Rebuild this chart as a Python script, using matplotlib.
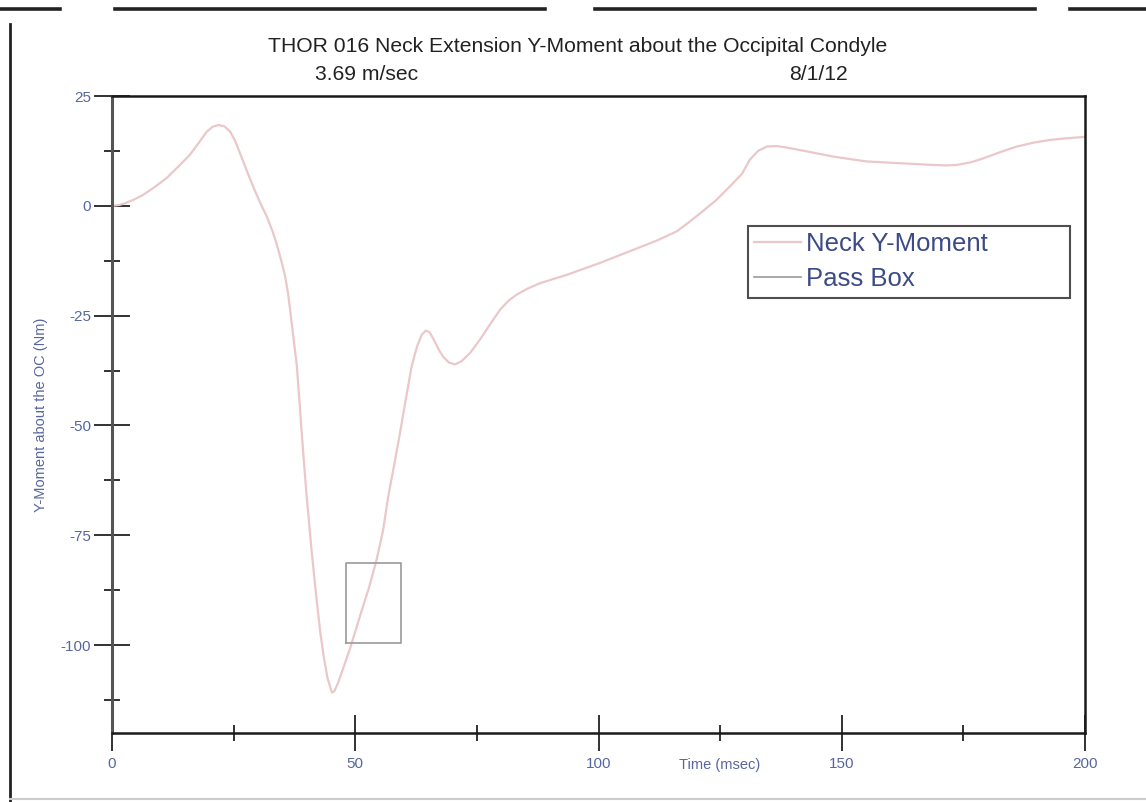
import matplotlib
matplotlib.use("Agg")
import matplotlib.pyplot as plt
from matplotlib.lines import Line2D
from matplotlib.ticker import MultipleLocator

plt.rcParams["axes.unicode_minus"] = False

# Neck Y-moment trace (time in msec, moment in Nm)
time_ms = [0, 1.5, 2.7, 4.5, 6.4, 8.8, 11.2, 13.6, 16, 18, 19.5, 20.7, 21.9,
           23.1, 24.3, 25.3, 26.3, 27.5, 29, 30.5, 31.8, 33, 33.8, 34.8, 35.6,
           36.2, 36.6, 37.3, 38, 38.5, 39, 39.5, 40, 40.5, 41, 41.9, 42.8, 43.5,
           44.3, 45.2, 45.7, 46.5, 47.6, 48.9, 51, 52.8, 54.4, 55.7, 56.8, 58,
           59.2, 60.4, 61.6, 62.7, 63.7, 64.5, 65.3, 66.3, 67.3, 68.1, 69.3,
           70.5, 71.8, 73.6, 75.6, 77.7, 79.8, 81.5, 83.2, 85.5, 88, 93.5,
           100.3, 107.2, 112, 116.1, 118.5, 120.9, 124.3, 127.7, 129.5, 131.1,
           132.8, 134.6, 136.6, 138.5, 141.4, 148.3, 155.1, 162, 168.8, 171.5,
           173.6, 176.5, 179.1, 182.5, 186, 189.5, 192.8, 196.5, 200]
moment_nm = [0, 0.2, 0.6, 1.4, 2.5, 4.3, 6.3, 8.9, 11.6, 14.6, 16.9, 18.0,
             18.4, 18.1, 16.9, 14.8, 12, 8.6, 4.4, 0.6, -2.4, -5.8, -8.5,
             -12.5, -16.1, -20, -23.6, -30, -36.5, -44, -51.7, -59, -66, -72,
             -78.2, -88, -97, -102.5, -107.5, -110.8, -110.5, -108.5, -105,
             -100.9, -93.3, -87, -80.5, -74, -66, -59, -51.7, -44, -36.5, -32,
             -29.3, -28.4, -28.8, -30.8, -33, -34.4, -35.7, -36.1, -35.4, -33.5,
             -30.5, -27, -23.6, -21.6, -20.2, -18.8, -17.6, -15.7, -13, -10,
             -7.9, -5.8, -3.8, -1.7, 1.4, 5.2, 7.3, 10.5, 12.5, 13.5, 13.6,
             13.3, 12.7, 11.2, 10.1, 9.7, 9.3, 9.2, 9.3, 9.9, 10.8, 12.2, 13.5,
             14.4, 15, 15.4, 15.7]

# Pass box corners (msec, Nm)
box_t = [48.2, 59.5]
box_m = [-99.4, -81.2]

x_ticks = [0, 50, 100, 150, 200]
y_ticks = [25, 0, -25, -50, -75, -100]

title = "THOR 016 Neck Extension Y-Moment about the Occipital Condyle"
speed_text = "3.69 m/sec"
date_text = "8/1/12"

W, H = 1146, 802
fig = plt.figure(figsize=(W / 100, H / 100), dpi=100)
fig.patch.set_facecolor("white")

font = ["Liberation Sans", "DejaVu Sans"]
tick_col = "#5866a0"
curve_col = "#eac8ca"
box_col = "#9a9a9a"

x0p, x1p, y0p, y1p = 112, 1085, 96, 733
ax = fig.add_axes([x0p / W, 1 - y1p / H, (x1p - x0p) / W, (y1p - y0p) / H])
ax.plot(time_ms, moment_nm, color=curve_col, lw=1.6, solid_joinstyle="round",
        label="Neck Y-Moment")
ax.plot([box_t[0], box_t[1], box_t[1], box_t[0], box_t[0]],
        [box_m[0], box_m[0], box_m[1], box_m[1], box_m[0]],
        color=box_col, lw=1.2, label="Pass Box")

ax.set_xlim(0, 200)
ax.set_ylim(-120, 25)
ax.set_xticks(x_ticks)
ax.set_yticks(y_ticks)
ax.xaxis.set_minor_locator(MultipleLocator(25))
ax.yaxis.set_minor_locator(MultipleLocator(12.5))
ax.tick_params(which="major", direction="inout", length=26, width=1.3,
               color="#222222", labelcolor=tick_col, labelsize=11)
ax.tick_params(which="minor", direction="inout", length=12, width=1.3,
               color="#222222")
for lab in ax.get_xticklabels() + ax.get_yticklabels():
    lab.set_family(font)
ax.tick_params(axis="x", pad=4)
ax.tick_params(axis="y", pad=2)

for side in ["top", "right", "bottom"]:
    ax.spines[side].set_color("#1a1a1a")
    ax.spines[side].set_linewidth(1.8)
ax.spines["left"].set_color("#555555")
ax.spines["left"].set_linewidth(2.2)

aw, ah = x1p - x0p, y1p - y0p
ax.set_ylabel("Y-Moment about the OC (Nm)", color=tick_col, fontsize=10.5,
              family=font)
ax.yaxis.set_label_coords(-(x0p - 48) / aw, 0.5)
ax.set_xlabel("Time (msec)", color=tick_col, fontsize=10.5, family=font)
ax.xaxis.set_label_coords((720 - x0p) / aw, -0.04)

lx0, lx1, ly0, ly1 = 748, 1070, 226, 298
leg = ax.legend(loc="upper left",
                bbox_to_anchor=((lx0 - x0p) / aw, 1 - (ly1 - y0p) / ah,
                                (lx1 - lx0) / aw, (ly1 - ly0) / ah),
                mode="expand", frameon=True, fancybox=False,
                edgecolor="#222222", prop={"family": font, "size": 18.5},
                handlelength=1.8, handletextpad=0.2, borderpad=0.25,
                labelspacing=0.42, borderaxespad=0)
leg.get_frame().set_linewidth(1.5)
for txt in leg.get_texts():
    txt.set_color("#3c4a86")

fig.text(578 / W, 1 - 46 / H, title, ha="center", va="center", fontsize=15.2,
         color="#222222", family=font)
fig.text(367 / W, 1 - 74 / H, speed_text, ha="center", va="center",
         fontsize=15.2, color="#222222", family=font)
fig.text(818 / W, 1 - 74 / H, date_text, ha="center", va="center",
         fontsize=15.2, color="#222222", family=font)

# Page border strokes
for a, b in [(0, 60), (115, 545), (595, 1035), (1070, W)]:
    fig.add_artist(Line2D([a / W, b / W], [1 - 9 / H, 1 - 9 / H],
                          color="#222222", lw=2.6))
fig.add_artist(Line2D([10 / W, 10 / W], [1 - 24 / H, 0], color="#222222", lw=2.0))
fig.add_artist(Line2D([10 / W, 1], [1 - 799 / H, 1 - 799 / H], color="#cccccc", lw=1.5))

fig.savefig("out.png", dpi=100, facecolor="white")
